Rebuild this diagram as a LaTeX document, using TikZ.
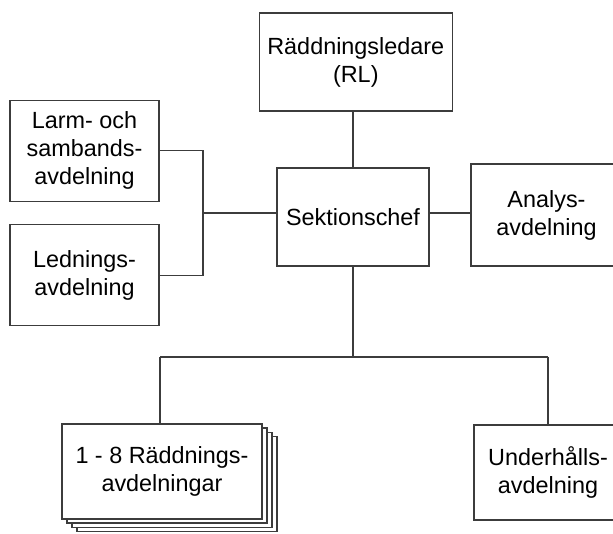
\documentclass[tikz,border=0pt]{standalone}
\usepackage{fontspec}
\setmainfont{Liberation Sans}
\begin{document}
\begin{tikzpicture}[x=1pt,y=-1pt,
  box/.style={draw=linegray,line width=1.1pt,fill=white,inner sep=0pt,align=center,
    font=\fontsize{23.4}{28}\selectfont,text=black},
  conn/.style={draw=linegray,line width=1.1pt}]
\definecolor{linegray}{RGB}{60,60,60}
\clip (0,0) rectangle (613,534);
\fill[white] (0,0) rectangle (613,534);
% boxes
\node[box,minimum width=193pt,minimum height=98pt] (rl) at (355.8,62) {Räddningsledare\\(RL)};
\node[box,minimum width=149pt,minimum height=101pt] (larm) at (84.5,150.8) {Larm- och\\sambands-\\avdelning};
\node[box,minimum width=149pt,minimum height=101pt] (led) at (84.5,275.3) {Lednings-\\avdelning};
\node[box,minimum width=152pt,minimum height=98pt] (sek) at (353,217) {Sektionschef};
\node[box,minimum width=151pt,minimum height=102pt] (ana) at (546.5,215) {Analys-\\avdelning};
\node[box,minimum width=200pt,minimum height=95pt] (s3) at (177,484) {};
\node[box,minimum width=200pt,minimum height=95pt] (s2) at (172,480) {};
\node[box,minimum width=200pt,minimum height=95pt] (s1) at (167,475.5) {};
\node[box,minimum width=200pt,minimum height=95pt] (stack) at (162,471.5) {1 - 8 Räddnings-\\avdelningar};
\node[box,minimum width=148pt,minimum height=95pt] (und) at (548,472.5) {Underhålls-\\avdelning};
% junction coordinates
\coordinate (j) at (203,213);
\coordinate (b) at (353,357);
\coordinate (bl) at (160,357);
\coordinate (br) at (548,357);
% connectors
\draw[conn] (sek.north) -- (sek.north |- rl.south);
\draw[conn] (larm.east) -| (j) |- (led.east);
\draw[conn] (j) -- (j -| sek.west);
\draw[conn] (j -| sek.east) -- (j -| ana.west);
\draw[conn] (sek.south) -- (b);
\draw[conn] (bl) -- (br);
\draw[conn] (bl) -- (bl |- stack.north);
\draw[conn] (br) -- (br |- und.north);
\end{tikzpicture}
\end{document}
